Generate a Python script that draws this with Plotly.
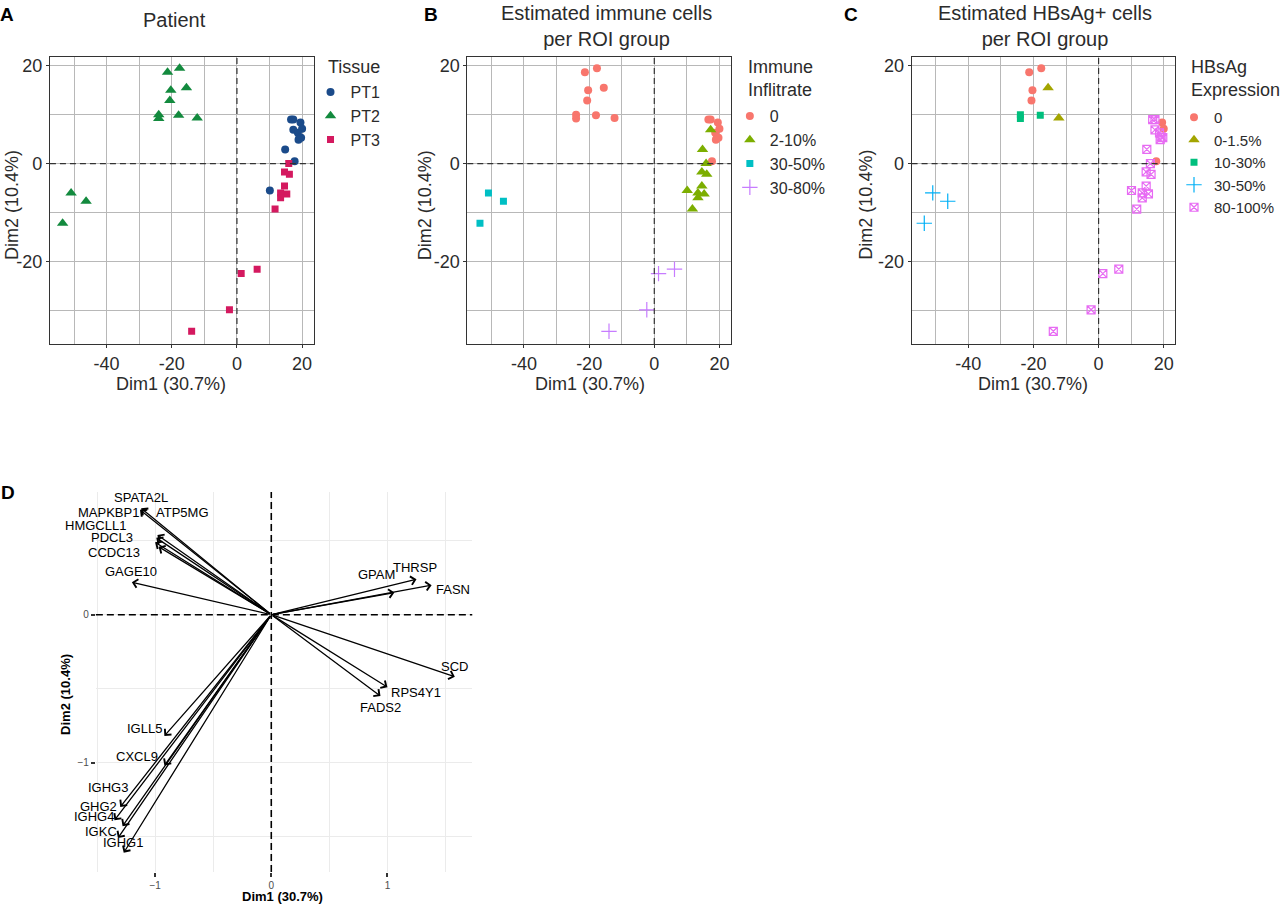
import plotly.graph_objects as go

# ---------------- data: PCA scores (panels A-C) ----------------
dim1 = [-21.3, -17.6, -15.5, -20.3, -20.6, -24.0, -24.0, -17.9, -12.2,
        -50.9, -46.3, -53.5,
        16.6, 17.3, 19.5, 17.3, 20.0, 18.7, 19.2, 19.7, 18.9, 14.8, 17.7, 10.1,
        15.9, 14.6, 16.1, 14.6, 13.4, 15.3, 13.4, 11.7, 1.3, 6.2, -2.3, -13.9]
dim2 = [18.7, 19.5, 15.5, 15.0, 12.9, 10.0, 9.2, 9.9, 9.3,
        -6.0, -7.7, -12.2,
        9.0, 9.0, 8.4, 6.9, 7.1, 6.3, 5.4, 5.3, 4.9, 2.9, 0.5, -5.5,
        0.0, -1.7, -2.2, -4.6, -6.0, -6.2, -7.0, -9.3, -22.5, -21.6, -29.9, -34.3]
tissue = ["PT2"] * 12 + ["PT1"] * 12 + ["PT3"] * 12
immune = (["0"] * 9 + ["30-50%"] * 3 +
          ["0", "0", "0", "2-10%", "0", "0", "0", "0", "0", "2-10%", "0", "2-10%"] +
          ["2-10%"] * 8 + ["30-80%"] * 4)
hbsag = (["0", "0", "0-1.5%", "0", "0", "10-30%", "10-30%", "10-30%", "0-1.5%"] +
         ["30-50%"] * 3 +
         ["80-100%", "80-100%", "0", "80-100%", "0", "80-100%", "80-100%", "80-100%",
          "80-100%", "80-100%", "0", "80-100%"] +
         ["80-100%"] * 12)

tissue_levels = ["PT1", "PT2", "PT3"]
immune_levels = ["0", "2-10%", "30-50%", "30-80%"]
hbsag_levels = ["0", "0-1.5%", "10-30%", "30-50%", "80-100%"]

x_ticks = [-40, -20, 0, 20]
x_ticktext = ["-40", "-20", "0", "20"]
y_ticks = [-20, 0, 20]
y_ticktext = ["-20", "0", "20"]

# ---------------- data: variable loadings (panel D) ----------------
genes = ["SPATA2L", "MAPKBP1", "ATP5MG", "HMGCLL1", "PDCL3", "CCDC13", "GAGE10",
         "GPAM", "THRSP", "FASN", "SCD", "RPS4Y1", "FADS2",
         "IGLL5", "CXCL9", "IGHG3", "GHG2", "IGHG4", "IGKC", "IGHG1"]
load1 = [-1.12, -1.13, -0.98, -0.99, -1.00, -0.97, -1.20,
         1.06, 1.25, 1.38, 1.58, 1.00, 0.94,
         -0.92, -0.92, -1.30, -1.35, -1.28, -1.32, -1.27]
load2 = [0.72, 0.71, 0.54, 0.52, 0.49, 0.46, 0.22,
         0.15, 0.24, 0.20, -0.42, -0.49, -0.55,
         -0.82, -1.02, -1.30, -1.39, -1.43, -1.51, -1.61]

# label offsets (pixels) for the gene names
lab_dx = [0, -32, 25, -61, -43, -45, -1, -18, -2, 21, 0, 29, 0, -20, -27, -12, -16, -29, -17, -1]
lab_dy = [11, -3, 22, 12, 5, -6, 11, 18, 12, -4, 10, -5, -11, 7, 9, 19, 14, 10, 6, 10]

# ---------------- styling ----------------
W, H = 1280, 905
FONT = "Liberation Sans, Arial, Helvetica, sans-serif"
TXT = "#2b2b2b"


def px(x):
    return x / W


def py(y):
    return 1 - y / H


tissue_style = {"PT1": ("#1B4B8A", "circle", 8),
                "PT2": ("#138A3E", "triangle-up", 10),
                "PT3": ("#D4195F", "square", 7)}
immune_style = {"0": ("#F8766D", "circle", 8),
                "2-10%": ("#7CAE00", "triangle-up", 10),
                "30-50%": ("#00BFC4", "square", 7),
                "30-80%": ("#C77CFF", "cross-thin-open", 11)}
hbsag_style = {"0": ("#F8766D", "circle", 8),
               "0-1.5%": ("#A3A500", "triangle-up", 10),
               "10-30%": ("#00BF7D", "square", 7),
               "30-50%": ("#00B0F6", "cross-thin-open", 11),
               "80-100%": ("#E76BF3", "square-x-open", 8)}

fig = go.Figure()

panels = [
    (tissue, tissue_levels, tissue_style, "x", "y", "legend"),
    (immune, immune_levels, immune_style, "x2", "y2", "legend2"),
    (hbsag, hbsag_levels, hbsag_style, "x3", "y3", "legend3"),
]
for groups, levels, style, xa, ya, lg in panels:
    for lev in levels:
        xs = [dim1[i] for i in range(len(dim1)) if groups[i] == lev]
        ys = [dim2[i] for i in range(len(dim2)) if groups[i] == lev]
        col, sym, size = style[lev]
        open_sym = sym.endswith("open")
        fig.add_trace(go.Scatter(
            x=xs, y=ys, mode="markers", name=lev, xaxis=xa, yaxis=ya, legend=lg,
            marker=dict(color=col, symbol=sym, size=size,
                        line=dict(width=1.2 if open_sym else 0, color=col)),
            hoverinfo="x+y+name"))

# ---------------- axes A-C ----------------
x_domains = [(50, 314), (468, 732), (913, 1177)]
for k, (l, r) in enumerate(x_domains):
    sx = "" if k == 0 else str(k + 1)
    common = dict(showline=True, mirror=True, linecolor="#333333", linewidth=1,
                  ticks="outside", ticklen=3, tickcolor="#333333",
                  tickfont=dict(size=18, color=TXT, family=FONT),
                  showgrid=True, gridcolor="#B8B8B8", gridwidth=1,
                  zeroline=False)
    fig.layout["xaxis" + sx] = dict(
        domain=[px(l), px(r)], range=[-57.4, 23.5], anchor="y" + sx,
        tickmode="array", tickvals=x_ticks, ticktext=x_ticktext,
        minor=dict(tickvals=[-50, -30, -10, 10], showgrid=True,
                   gridcolor="#B8B8B8", gridwidth=1, ticks=""),
        **common)
    fig.layout["yaxis" + sx] = dict(
        domain=[py(344), py(57)], range=[-36.9, 21.8], anchor="x" + sx,
        tickmode="array", tickvals=y_ticks, ticktext=y_ticktext,
        minor=dict(tickvals=[-30, -10, 10], showgrid=True,
                   gridcolor="#B8B8B8", gridwidth=1, ticks=""),
        **common)

# ---------------- axes D ----------------
fig.layout["xaxis4"] = dict(
    domain=[px(96), px(473)], range=[-1.51, 1.73], anchor="y4",
    tickmode="array", tickvals=[-1, 0, 1], ticks="outside", ticklen=4,
    tickcolor="#333333", tickwidth=1.5,
    tickfont=dict(size=10, color="#4D4D4D", family=FONT),
    showgrid=True, gridcolor="#EBEBEB", gridwidth=1.2, zeroline=False,
    showline=False,
    minor=dict(tickvals=[-1.5, -0.5, 0.5, 1.5], showgrid=True,
               gridcolor="#EBEBEB", gridwidth=1.2, ticks=""))
fig.layout["yaxis4"] = dict(
    domain=[py(872), py(492)], range=[-1.74, 0.83], anchor="x4",
    tickmode="array", tickvals=[-1, 0], ticks="outside", ticklen=4,
    tickcolor="#333333", tickwidth=1.5,
    tickfont=dict(size=10, color="#4D4D4D", family=FONT),
    showgrid=True, gridcolor="#EBEBEB", gridwidth=1.2, zeroline=False,
    showline=False,
    minor=dict(tickvals=[-1.5, -0.5, 0.5], showgrid=True,
               gridcolor="#EBEBEB", gridwidth=1.2, ticks=""))

# ---------------- dashed zero lines ----------------
shapes = []
for sx in ["", "2", "3"]:
    shapes.append(dict(type="line", xref="x" + sx, yref="y" + sx + " domain",
                       x0=0, x1=0, y0=0, y1=1,
                       line=dict(color="#333333", width=1.2, dash="6px,4px")))
    shapes.append(dict(type="line", xref="x" + sx + " domain", yref="y" + sx,
                       x0=0, x1=1, y0=0, y1=0,
                       line=dict(color="#333333", width=1.2, dash="6px,4px")))
shapes.append(dict(type="line", xref="x4", yref="y4 domain", x0=0, x1=0, y0=0, y1=1,
                   line=dict(color="black", width=1.6, dash="7px,4px")))
shapes.append(dict(type="line", xref="x4 domain", yref="y4", x0=0, x1=1, y0=0, y1=0,
                   line=dict(color="black", width=1.6, dash="7px,4px")))
fig.update_layout(shapes=shapes)

# ---------------- annotations ----------------
ann = []


def text_ann(t, x, y, size, color=TXT, bold=False, angle=0, xanchor="center",
             yanchor="middle", align="center"):
    if bold:
        t = "<b>" + t + "</b>"
    ann.append(dict(text=t, x=px(x), y=py(y), xref="paper", yref="paper",
                    showarrow=False, textangle=angle, xanchor=xanchor, yanchor=yanchor,
                    align=align, font=dict(size=size, color=color, family=FONT)))


# panel letters
text_ann("A", 7, 15, 19, "black", bold=True)
text_ann("B", 432, 15, 19, "black", bold=True)
text_ann("C", 852, 15, 19, "black", bold=True)
text_ann("D", 8, 492, 19, "black", bold=True)

# titles
text_ann("Patient", 175, 20, 20)
text_ann("Estimated immune cells<br>per ROI group", 607, 26, 20)
text_ann("Estimated HBsAg+ cells<br>per ROI group", 1047, 26, 20)

# axis titles A-C
for xc in [171, 591, 1035]:
    text_ann("Dim1 (30.7%)", xc, 384, 18)
for xt in [12, 426, 867]:
    text_ann("Dim2 (10.4%)", xt, 205, 18, angle=-90)

# legend titles (placed as text so the key layout can follow the reference)
text_ann("Tissue", 327, 67, 18, xanchor="left", align="left")
text_ann("Immune<br>Inflitrate", 747, 79, 18, xanchor="left", align="left")
text_ann("HBsAg<br>Expression", 1191, 79, 18, xanchor="left", align="left")

# axis titles D
text_ann("Dim1 (30.7%)", 283, 896, 13, "black", bold=True)
text_ann("Dim2 (10.4%)", 65, 694, 13, "black", bold=True, angle=-90)

# arrows and labels D
for g, lx, ly, dx, dy in zip(genes, load1, load2, lab_dx, lab_dy):
    ann.append(dict(x=lx, y=ly, xref="x4", yref="y4", ax=0, ay=0,
                    axref="x4", ayref="y4", text="", showarrow=True,
                    arrowhead=4, arrowsize=1.3, arrowwidth=1.3,
                    arrowcolor="black", standoff=0, startstandoff=0))
    ann.append(dict(x=lx, y=ly, xref="x4", yref="y4", text=g, showarrow=False,
                    xshift=dx, yshift=dy, xanchor="center", yanchor="middle",
                    font=dict(size=13, color="black", family=FONT)))

fig.update_layout(annotations=ann)

# ---------------- legends ----------------
def legend_cfg(x, y, size=16):
    return dict(x=px(x), y=py(y), xanchor="left", yanchor="top",
                xref="paper", yref="paper",
                font=dict(size=size, color=TXT, family=FONT),
                bgcolor="rgba(0,0,0,0)", borderwidth=0, itemwidth=30,
                tracegroupgap=0)


fig.update_layout(
    legend=legend_cfg(311, 75),
    legend2=legend_cfg(731, 99),
    legend3=legend_cfg(1176, 101, 15),
)

fig.update_layout(
    width=W, height=H, margin=dict(l=0, r=0, t=0, b=0),
    paper_bgcolor="white", plot_bgcolor="white",
    font=dict(family=FONT, color=TXT), showlegend=True,
)

fig.write_html("out.html", config={"displayModeBar": False},
               post_script="document.body.style.margin='0px';document.body.style.overflow='hidden';")
